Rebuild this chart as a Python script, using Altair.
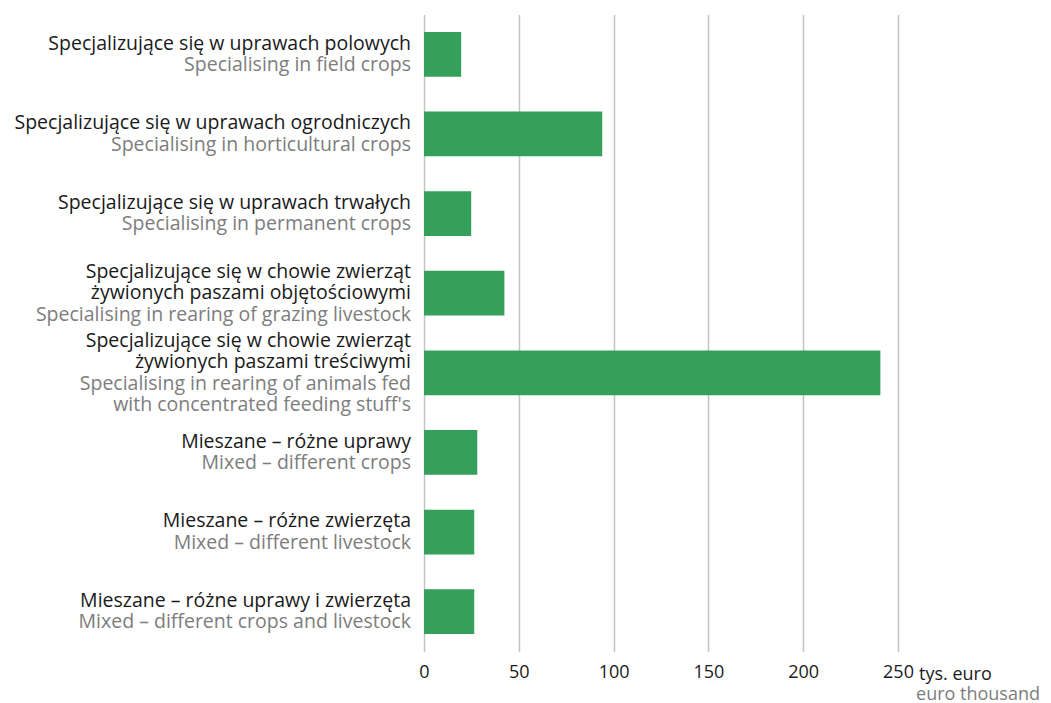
import altair as alt
import pandas as pd

# ---- data ----
labels_pl = [
    ["Specjalizujące się w uprawach polowych"],
    ["Specjalizujące się w uprawach ogrodniczych"],
    ["Specjalizujące się w uprawach trwałych"],
    ["Specjalizujące się w chowie zwierząt", "żywionych paszami objętościowymi"],
    ["Specjalizujące się w chowie zwierząt", "żywionych paszami treściwymi"],
    ["Mieszane – różne uprawy"],
    ["Mieszane – różne zwierzęta"],
    ["Mieszane – różne uprawy i zwierzęta"],
]
labels_en = [
    ["Specialising in field crops"],
    ["Specialising in horticultural crops"],
    ["Specialising in permanent crops"],
    ["Specialising in rearing of grazing livestock"],
    ["Specialising in rearing of animals fed", "with concentrated feeding stuff's"],
    ["Mixed – different crops"],
    ["Mixed –  different livestock"],
    ["Mixed – different crops and livestock"],
]
values = [19.6, 94.0, 24.9, 42.4, 240.7, 28.1, 26.5, 26.5]
x_ticks = [0, 50, 100, 150, 200, 250]

W, H = 474, 637
GREEN = "#35a05a"
DARK = "#1a1a1a"
GREY = "#7d7d7d"
GRID = "#c4c4c4"
FONT = "Open Sans"
FS = 19.5
LINE_UNITS = 21.5 / (H / 8.0)
HALF_BAR = 22.4 / (H / 8.0)

bars = pd.DataFrame({"idx": list(range(len(values))), "value": values})

rows = []
for i, (pl, en) in enumerate(zip(labels_pl, labels_en)):
    lines = [(t, "pl") for t in pl] + [(t, "en") for t in en]
    n = len(lines)
    for k, (t, lang) in enumerate(lines):
        rows.append({"idx": i, "pos": i + (k - (n - 1) / 2) * LINE_UNITS, "text": t, "lang": lang})
text_df = pd.DataFrame(rows)

yscale = alt.Scale(domain=[-0.5, len(values) - 0.5], reverse=True, nice=False, zero=False)
xscale = alt.Scale(domain=[0, 250], nice=False)

bar_layer = alt.Chart(bars).transform_calculate(
    y0=f"datum.idx - {HALF_BAR}", y1=f"datum.idx + {HALF_BAR}"
).mark_rect(color=GREEN).encode(
    x=alt.X("value:Q", scale=xscale, axis=alt.Axis(
        values=x_ticks, grid=True, gridColor=GRID, gridWidth=1.5, domain=False,
        ticks=False, labelFontSize=18, labelColor=DARK, labelFont=FONT,
        labelPadding=12, title=None, labelFlush=False)),
    x2=alt.datum(0),
    y=alt.Y("y0:Q", scale=yscale, axis=None),
    y2="y1:Q",
)

text_layer = alt.Chart(text_df).mark_text(
    align="right", baseline="middle", fontSize=FS, font=FONT, dx=-13
).encode(
    x=alt.value(0),
    y=alt.Y("pos:Q", scale=yscale, axis=None),
    text="text:N",
    color=alt.Color("lang:N", scale=alt.Scale(domain=["pl", "en"], range=[DARK, GREY]), legend=None),
)

unit_pl = alt.Chart(pd.DataFrame({"t": ["tys. euro"]})).mark_text(
    align="left", baseline="middle", fontSize=18, font=FONT, color=DARK, dx=21
).encode(x=alt.datum(250), y=alt.value(H + 23), text="t:N")

unit_en = alt.Chart(pd.DataFrame({"t": ["euro thousand"]})).mark_text(
    align="right", baseline="middle", fontSize=18, font=FONT, color=GREY, dx=142
).encode(x=alt.datum(250), y=alt.value(H + 43), text="t:N")

chart = alt.layer(bar_layer, text_layer, unit_pl, unit_en).properties(
    width=W, height=H,
    autosize=alt.AutoSizeParams(type="none"),
    padding={"left": 416, "top": 6.5, "right": 143, "bottom": 51},
).configure_view(stroke=None).configure_axis(labelFont=FONT)

chart.save("out.html", embed_options={"renderer": "svg", "actions": False})
